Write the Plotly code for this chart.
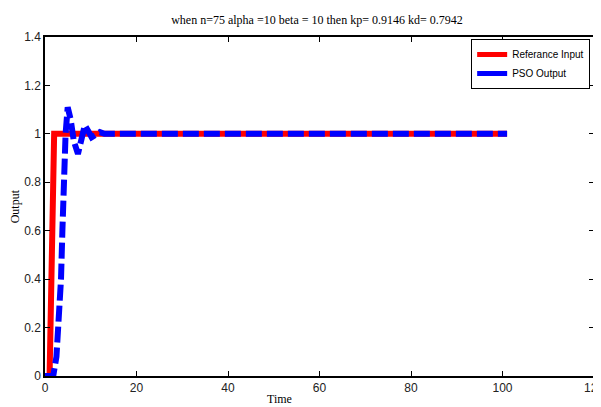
import plotly.graph_objects as go

ref_t = [0, 1, 2, 101]
ref_y = [0, 0, 1, 1]

pso_t = [0, 1.8, 2.5, 2.9, 3.5, 3.8, 4.0, 4.5, 4.96, 5.6, 6.3, 7.2, 8.0, 8.7, 9.5, 10.2, 11, 12, 13, 14, 101]
pso_y = [0, 0, 0.08, 0.2, 0.4, 0.6, 0.8, 1.0, 1.11, 1.06, 0.97, 0.917, 0.98, 1.036, 1.01, 0.986, 0.995, 1.007, 1.0, 1.0, 1.0]

x_ticks = [0, 20, 40, 60, 80, 100, 120]
y_ticks = [0, 0.2, 0.4, 0.6, 0.8, 1, 1.2, 1.4]
y_labels = ["0", "0.2", "0.4", "0.6", "0.8", "1", "1.2", "1.4"]

title_text = "when n=75 alpha =10 beta = 10 then kp= 0.9146 kd= 0.7942"
x_title = "Time"
y_title = "Output"

sans = "Liberation Sans Narrow, Arial Narrow, Liberation Sans, Arial"
tick_font = dict(family=sans, size=12, color="#222")
serif = "Liberation Serif, Times New Roman, serif"

fig = go.Figure()
fig.add_trace(go.Scatter(x=ref_t, y=ref_y, mode="lines", name="Referance Input",
                         line=dict(color="#ff0000", width=6), showlegend=False))
fig.add_trace(go.Scatter(x=pso_t, y=pso_y, mode="lines", name="PSO Output",
                         line=dict(color="#0000ff", width=6, dash="16px,5px"), showlegend=False))
# legend entries (solid samples as in reference)
fig.add_trace(go.Scatter(x=[None], y=[None], mode="lines", name="Referance Input",
                         line=dict(color="#ff0000", width=6)))
fig.add_trace(go.Scatter(x=[None], y=[None], mode="lines", name="PSO Output",
                         line=dict(color="#0000ff", width=6)))

axis_common = dict(showgrid=False, zeroline=False, showline=True, linecolor="black", linewidth=1.5,
                   mirror="ticks", ticks="inside", ticklen=5, tickcolor="black", tickwidth=1,
                   tickfont=tick_font, automargin=False)

fig.update_layout(
    width=593, height=399,
    margin=dict(l=37, r=7, t=29, b=31, autoexpand=False),
    paper_bgcolor="white", plot_bgcolor="white",
    title=dict(text=title_text, x=0.521, xanchor="center", y=0.970, yanchor="middle",
               font=dict(family=serif, size=12, color="black"), automargin=False),
    xaxis=dict(range=[0, 120], tickvals=x_ticks, ticklabeloverflow="allow", **axis_common),
    yaxis=dict(range=[0, 1.4], tickvals=y_ticks, ticktext=y_labels, **axis_common),
    legend=dict(x=0.993, y=0.994, xanchor="right", yanchor="top", bgcolor="white",
                bordercolor="black", borderwidth=1, itemwidth=30,
                font=dict(family=sans, size=10, color="black"),
                tracegroupgap=0, itemsizing="constant"),
    showlegend=True,
    annotations=[
        dict(text=x_title, xref="paper", yref="paper", x=0.428, y=0, xanchor="center",
             yanchor="middle", yshift=-23, showarrow=False,
             font=dict(family=serif, size=12, color="black")),
        dict(text=y_title, xref="paper", yref="paper", x=-0.055, y=0.5, xanchor="center",
             yanchor="middle", textangle=-90, showarrow=False,
             font=dict(family=serif, size=12, color="black")),
    ],
)

fig.write_html("out.html")
